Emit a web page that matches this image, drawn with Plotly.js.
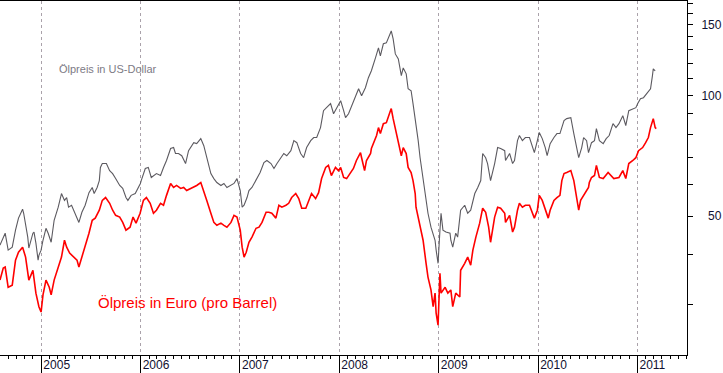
<!DOCTYPE html>
<html>
<head>
<meta charset="utf-8">
<script src="https://cdn.plot.ly/plotly-3.0.1.min.js"></script>
<style>html,body{margin:0;padding:0;background:#fff;}#chart{width:723px;height:373px;}</style>
</head>
<body>
<div id="chart"></div>
<script>
// Ölpreis in US-Dollar (Brent)
const usdDates = ["2004-08-02","2004-08-21","2004-09-01","2004-09-16","2004-09-28","2004-10-09","2004-10-24","2004-10-28","2004-11-12","2004-11-16","2004-12-01","2004-12-05","2004-12-12","2004-12-20","2004-12-23","2004-12-31",
"2005-01-07","2005-01-18","2005-01-26","2005-02-06","2005-02-17","2005-03-04","2005-03-16","2005-03-27","2005-04-04","2005-04-11","2005-04-22","2005-05-12","2005-05-19","2005-05-30","2005-06-11","2005-06-25","2005-07-07","2005-07-14","2005-07-25","2005-08-02","2005-08-06","2005-08-13","2005-08-28","2005-09-09","2005-09-20","2005-10-01","2005-10-16","2005-10-27","2005-11-08","2005-11-15","2005-11-27","2005-12-12","2005-12-23","2005-12-31",
"2006-01-03","2006-01-18","2006-01-29","2006-02-09","2006-02-28","2006-03-15","2006-03-26","2006-04-06","2006-04-21","2006-05-02","2006-05-09","2006-05-20","2006-06-01","2006-06-15","2006-06-26","2006-07-15","2006-07-26","2006-08-10","2006-08-21","2006-09-01","2006-09-16","2006-09-27","2006-10-08","2006-10-23","2006-11-03","2006-11-14","2006-11-29","2006-12-10","2006-12-21",
"2007-01-02","2007-01-09","2007-01-16","2007-01-27","2007-02-03","2007-02-14","2007-03-01","2007-03-16","2007-03-30","2007-04-10","2007-04-25","2007-05-06","2007-05-17","2007-05-31","2007-06-11","2007-06-22","2007-07-07","2007-07-18","2007-07-29","2007-08-12","2007-08-23","2007-09-03","2007-09-18","2007-09-29","2007-10-10","2007-10-24","2007-11-04","2007-11-15","2007-11-30","2007-12-11","2007-12-22",
"2008-01-06","2008-01-17","2008-01-24","2008-02-04","2008-02-11","2008-02-22","2008-03-12","2008-03-23","2008-04-06","2008-04-17","2008-04-28","2008-05-13","2008-05-24","2008-05-31","2008-06-11","2008-06-22","2008-07-07","2008-07-10","2008-07-17","2008-07-25","2008-08-05","2008-08-12","2008-08-16","2008-08-23","2008-09-03","2008-09-10","2008-09-21","2008-09-28","2008-10-09","2008-10-17","2008-10-24","2008-11-04","2008-11-15","2008-11-22","2008-12-03","2008-12-18","2008-12-22","2008-12-29",
"2009-01-05","2009-01-09","2009-01-16","2009-01-27","2009-02-11","2009-02-14","2009-02-21","2009-03-04","2009-03-11","2009-03-22","2009-04-06","2009-04-17","2009-04-28","2009-05-13","2009-05-24","2009-06-04","2009-06-11","2009-06-22","2009-06-29","2009-07-10","2009-07-25","2009-08-05","2009-08-16","2009-08-31","2009-09-03","2009-09-18","2009-09-29","2009-10-06","2009-10-17","2009-10-24","2009-11-04","2009-11-15","2009-11-30","2009-12-11","2009-12-18","2009-12-29",
"2010-01-05","2010-01-16","2010-01-27","2010-02-03","2010-02-14","2010-02-28","2010-03-11","2010-03-22","2010-04-06","2010-04-16","2010-05-01","2010-05-12","2010-05-23","2010-05-30","2010-06-10","2010-06-17","2010-06-28","2010-07-05","2010-07-16","2010-07-27","2010-08-03","2010-08-14","2010-08-28","2010-09-08","2010-09-19","2010-10-03","2010-10-14","2010-10-25","2010-11-08","2010-11-19","2010-11-30","2010-12-15","2010-12-26",
"2011-01-02","2011-01-12","2011-01-23","2011-02-07","2011-02-18","2011-02-25","2011-02-28","2011-03-07"];
const usdPrice = [42.3,45.3,41.1,41.8,46.1,49.4,52.0,50.8,44.3,41.6,45.3,45.6,42.8,38.8,39.9,41.1,
43.5,46.6,45.3,43.0,48.8,52.6,56.9,54.7,55.6,52.6,53.2,49.7,48.2,51.1,53.2,57.2,58.9,56.9,58.9,61.3,66.1,67.6,67.6,64.9,63.8,62.0,59.6,58.6,55.6,54.7,56.3,56.9,58.6,60.3,
61.3,65.7,66.1,62.4,63.8,63.1,66.1,68.8,73.7,74.1,71.6,71.6,70.7,67.6,72.8,76.2,75.8,78.0,74.9,69.9,63.8,62.0,60.6,59.6,60.3,58.9,59.6,60.3,62.0,
57.9,52.6,53.2,55.6,57.9,58.9,61.3,64.2,68.0,68.8,67.6,65.7,67.6,69.9,71.6,70.7,72.8,77.1,76.2,71.6,69.9,74.1,77.1,78.5,78.5,83.1,91.6,93.2,95.4,90.0,93.2,
97.0,91.6,88.0,90.0,92.7,97.0,103.9,99.8,104.5,110.7,115.2,124.0,131.4,125.5,134.5,135.2,142.3,144.8,138.3,126.9,123.3,117.1,112.0,117.1,113.2,103.9,102.7,95.4,85.0,77.1,69.9,62.4,54.7,50.8,46.9,43.5,41.1,38.1,
46.1,50.8,46.1,45.6,45.3,43.5,41.8,45.3,44.3,51.7,53.2,50.8,51.7,56.9,58.9,61.3,71.6,69.9,67.6,61.3,67.6,74.1,73.7,72.8,68.8,71.6,67.6,68.8,77.1,79.4,77.1,78.5,78.5,74.1,72.0,77.1,
80.8,78.0,74.1,70.7,75.8,78.5,80.3,80.3,86.5,87.5,88.0,80.3,74.1,69.9,74.1,78.5,77.1,72.0,76.2,77.1,82.6,77.1,75.8,78.0,79.4,85.0,83.1,85.0,89.0,84.1,91.6,92.7,93.2,
95.4,98.1,98.7,101.5,103.9,112.0,116.5,115.2];

// Ölpreis in Euro (pro Barrel)
const eurDates = ["2004-08-02","2004-08-14","2004-08-21","2004-09-01","2004-09-16","2004-09-28","2004-10-09","2004-10-24","2004-11-04","2004-11-16","2004-12-01","2004-12-12","2004-12-23","2004-12-31",
"2005-01-07","2005-01-18","2005-01-30","2005-02-06","2005-02-17","2005-03-04","2005-03-16","2005-03-27","2005-04-04","2005-04-15","2005-04-30","2005-05-12","2005-05-19","2005-05-30","2005-06-11","2005-06-25","2005-07-07","2005-07-18","2005-08-02","2005-08-13","2005-08-25","2005-09-09","2005-09-20","2005-10-01","2005-10-16","2005-10-27","2005-11-08","2005-11-23","2005-12-04","2005-12-15","2005-12-30",
"2006-01-11","2006-01-22","2006-02-05","2006-02-17","2006-02-28","2006-03-15","2006-03-26","2006-04-06","2006-04-21","2006-05-02","2006-05-13","2006-05-28","2006-06-08","2006-06-19","2006-07-04","2006-07-15","2006-07-26","2006-08-10","2006-08-21","2006-09-01","2006-09-16","2006-09-27","2006-10-08","2006-10-23","2006-11-03","2006-11-14","2006-11-29","2006-12-10","2006-12-21",
"2007-01-02","2007-01-09","2007-01-16","2007-01-24","2007-02-03","2007-02-14","2007-03-01","2007-03-12","2007-03-23","2007-04-07","2007-04-17","2007-04-28","2007-05-13","2007-05-24","2007-06-04","2007-06-19","2007-06-29","2007-07-10","2007-07-25","2007-08-05","2007-08-16","2007-08-31","2007-09-10","2007-09-21","2007-10-06","2007-10-17","2007-10-28","2007-11-12","2007-11-22","2007-12-03","2007-12-18","2007-12-29",
"2008-01-06","2008-01-17","2008-01-28","2008-02-11","2008-02-22","2008-03-04","2008-03-19","2008-03-23","2008-04-03","2008-04-10","2008-04-25","2008-04-28","2008-05-13","2008-05-17","2008-05-24","2008-05-31","2008-06-11","2008-06-22","2008-07-07","2008-07-10","2008-07-17","2008-07-29","2008-08-12","2008-08-16","2008-08-23","2008-09-03","2008-09-10","2008-09-21","2008-09-28","2008-10-06","2008-10-09","2008-10-24","2008-11-04","2008-11-15","2008-11-22","2008-12-03","2008-12-11","2008-12-18","2008-12-22","2008-12-29",
"2009-01-05","2009-01-09","2009-01-24","2009-02-03","2009-02-14","2009-02-21","2009-03-04","2009-03-19","2009-03-22","2009-04-06","2009-04-17","2009-04-28","2009-05-06","2009-05-17","2009-05-31","2009-06-11","2009-06-22","2009-07-03","2009-07-10","2009-07-25","2009-08-05","2009-08-16","2009-08-31","2009-09-03","2009-09-18","2009-09-29","2009-10-06","2009-10-17","2009-10-24","2009-11-04","2009-11-15","2009-11-30","2009-12-11","2009-12-18","2009-12-29",
"2010-01-05","2010-01-16","2010-01-27","2010-02-07","2010-02-14","2010-02-28","2010-03-11","2010-03-22","2010-03-29","2010-04-06","2010-04-16","2010-05-01","2010-05-12","2010-05-23","2010-05-30","2010-06-06","2010-06-21","2010-07-05","2010-07-08","2010-07-16","2010-07-27","2010-08-03","2010-08-14","2010-08-28","2010-09-15","2010-09-25","2010-10-06","2010-10-25","2010-11-08","2010-11-19","2010-11-30","2010-12-15","2010-12-26",
"2011-01-05","2011-01-20","2011-01-31","2011-02-10","2011-02-18","2011-02-25","2011-02-28","2011-03-07","2011-03-11"];
const eurPrice = [34.6,37.1,37.3,33.2,33.6,38.8,40.6,41.8,39.5,34.6,36.6,32.1,29.7,28.8,
31.8,34.6,33.2,31.8,34.6,37.3,39.5,43.5,41.8,40.4,39.5,38.8,37.3,39.5,41.6,45.3,48.8,49.4,51.7,54.7,55.6,53.8,51.7,50.2,49.7,48.2,46.1,46.9,49.7,48.0,50.8,
54.7,55.6,53.8,50.8,51.7,53.8,53.2,56.3,60.3,58.9,59.6,58.6,58.9,57.9,58.6,58.9,59.6,60.6,57.9,54.7,50.8,48.2,47.4,48.0,47.4,46.9,48.2,50.2,49.7,
46.1,41.8,39.5,40.6,43.0,44.3,46.6,46.9,48.2,51.1,51.1,50.8,49.4,53.2,52.6,53.2,53.8,55.6,56.9,55.3,52.3,52.3,54.7,56.9,55.3,57.2,62.0,66.1,66.9,63.1,66.1,64.9,
66.1,62.4,62.0,63.8,65.7,68.8,72.0,69.9,64.9,68.8,71.6,73.7,78.0,79.4,83.1,80.3,85.0,85.5,91.6,92.7,87.5,80.3,74.1,70.7,74.1,71.6,66.1,64.2,61.3,56.9,52.6,46.9,43.5,38.1,35.2,32.7,29.7,32.1,28.6,26.7,
36.0,32.1,33.2,32.1,32.7,29.7,32.1,31.4,36.6,38.1,39.5,37.7,41.1,44.3,48.0,52.3,51.1,46.9,43.0,49.7,52.6,52.3,50.8,48.2,50.2,45.6,46.9,51.7,53.8,52.6,53.2,53.2,51.1,49.4,51.7,
56.3,54.7,51.7,49.4,51.7,54.7,55.6,56.3,61.3,63.8,64.2,64.9,61.3,55.6,51.7,54.7,56.9,58.9,60.6,62.4,63.1,66.9,62.4,62.0,64.2,63.1,62.0,62.4,64.9,62.0,67.6,68.8,69.9,
72.8,74.1,76.2,78.5,83.1,85.5,87.5,83.1,82.6];

const yearTickVals = [50, 100, 150];
const yearTickText = ["\u200750", "100", "150"];
const minorVals = [30, 40, 60, 70, 80, 90, 110, 120, 130, 140, 160, 170];
const labelUsd = "Ölpreis in US-Dollar";
const labelEur = "Ölpreis in Euro (pro Barrel)";

const font = "Liberation Sans, Arial, sans-serif";

const traces = [
  {x: usdDates, y: usdPrice, type: "scatter", mode: "lines", name: labelUsd,
   line: {color: "#5c5a60", width: 1.1}},
  {x: eurDates, y: eurPrice, type: "scatter", mode: "lines", name: labelEur,
   line: {color: "#ff0000", width: 1.6}}
];

const layout = {
  width: 723, height: 373,
  margin: {l: 0, r: 36, t: 1, b: 18},
  paper_bgcolor: "#ffffff", plot_bgcolor: "#ffffff",
  showlegend: false,
  font: {family: font, size: 12, color: "#101030"},
  xaxis: {
    type: "date",
    range: ["2004-08-02", "2011-07-02"],
    showline: true, linecolor: "#000", linewidth: 1, mirror: true,
    showgrid: true, gridcolor: "#aaa2aa", griddash: "3px,3px", gridwidth: 1,
    tick0: "2005-01-01", dtick: "M12", tickformat: "%Y",
    ticks: "outside", ticklen: 18, tickcolor: "#000", tickwidth: 1,
    ticklabelposition: "outside right", ticklabelstandoff: -1, ticklabelshift: 1,
    tickfont: {family: font, size: 12, color: "#101030"},
    minor: {tick0: "2005-01-01", dtick: "M1", ticks: "outside", ticklen: 3, tickcolor: "#000", tickwidth: 1, showgrid: false},
    zeroline: false, fixedrange: true
  },
  yaxis: {
    type: "log", side: "right",
    range: [Math.log10(22.5), Math.log10(172)],
    showline: true, linecolor: "#000", linewidth: 1,
    showgrid: false, zeroline: false,
    tickmode: "array", tickvals: yearTickVals, ticktext: yearTickText,
    ticks: "outside", ticklen: 5, tickcolor: "#000", tickwidth: 1,
    ticklabelstandoff: 6,
    tickfont: {family: font, size: 12, color: "#101030"},
    minor: {tickmode: "array", tickvals: minorVals, ticks: "outside", ticklen: 5, tickcolor: "#000", tickwidth: 1, showgrid: false},
    fixedrange: true
  },
  annotations: [
    {text: labelUsd, xref: "paper", yref: "paper", x: 0.083, y: 0.809, xanchor: "left", yanchor: "middle",
     showarrow: false, font: {family: font, size: 11, color: "#7d7b85"}},
    {text: labelEur, xref: "paper", yref: "paper", x: 0.1397, y: 0.149, xanchor: "left", yanchor: "middle",
     showarrow: false, font: {family: font, size: 15, color: "#ff0000"}}
  ]
};

Plotly.newPlot("chart", traces, layout, {staticPlot: true, displayModeBar: false});
</script>
</body>
</html>
